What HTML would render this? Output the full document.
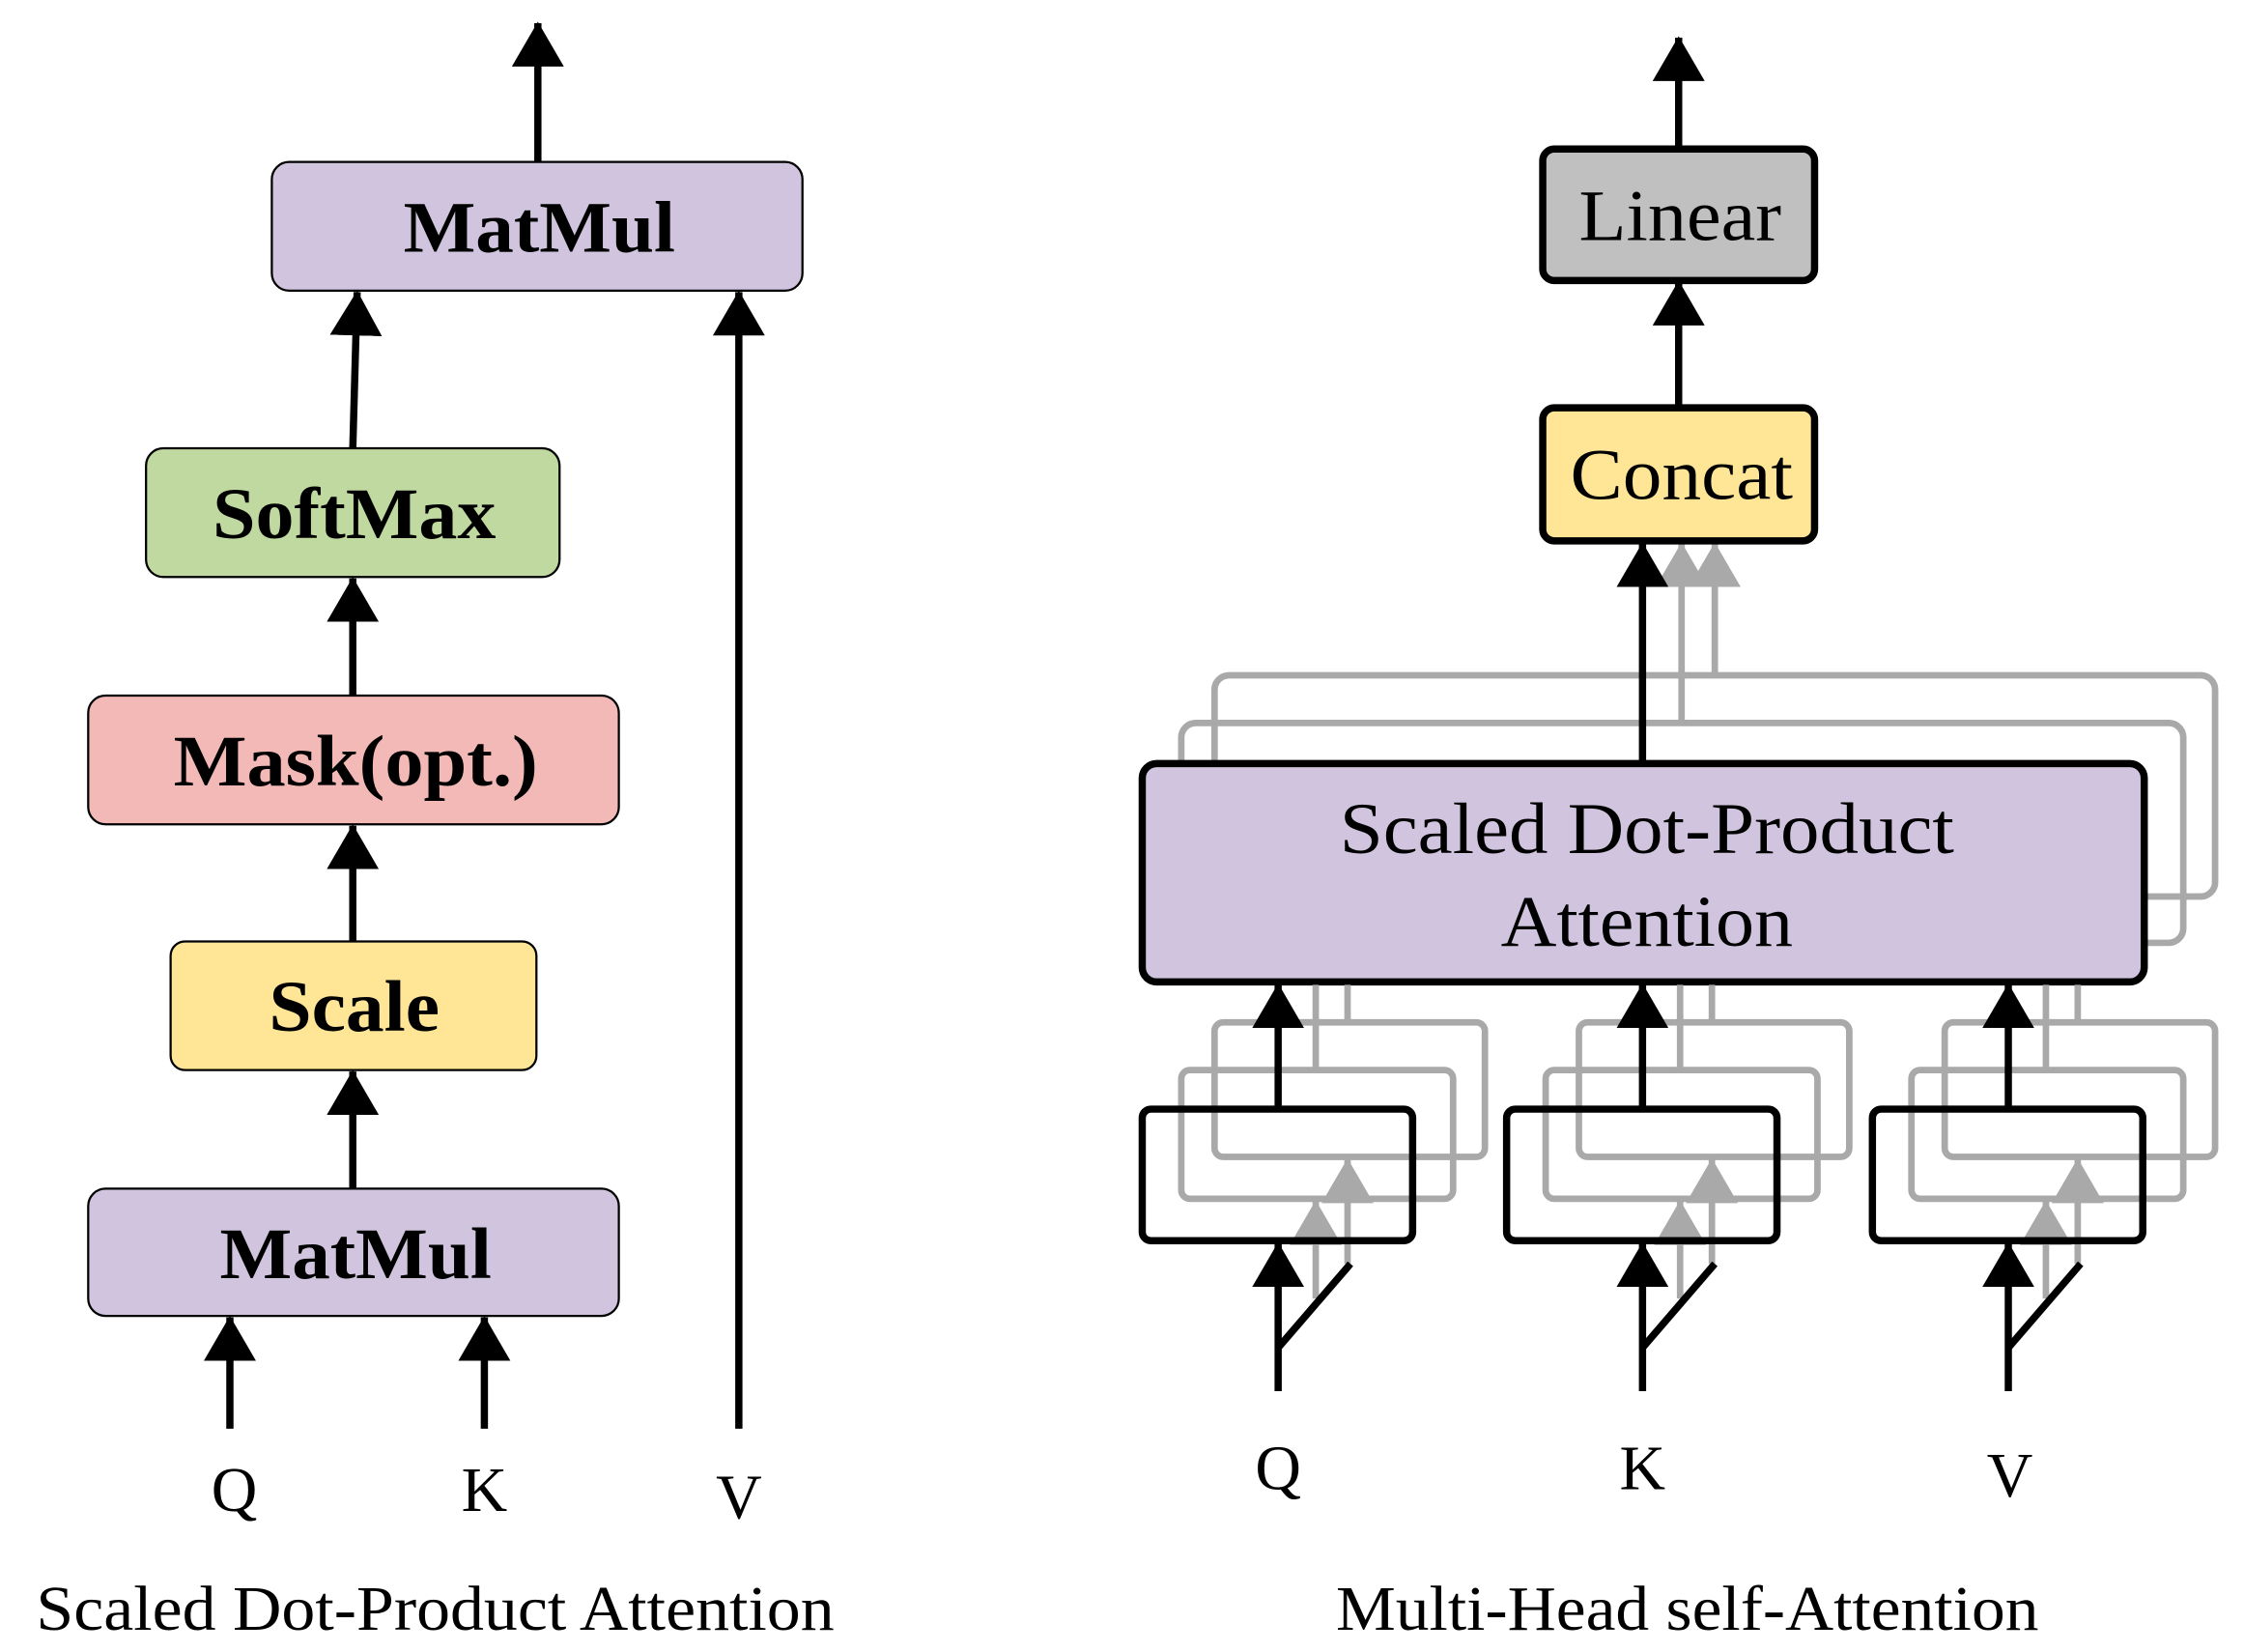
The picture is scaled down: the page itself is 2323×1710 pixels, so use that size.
<!DOCTYPE html>
<html><head><meta charset="utf-8"><style>html,body{margin:0;padding:0;background:#fff}svg{display:block}</style></head>
<body>
<svg width="2323" height="1710" viewBox="0 0 1552 1142.4" xmlns="http://www.w3.org/2000/svg" font-family="'Liberation Serif', serif">
<defs>
<marker id="ab" markerUnits="userSpaceOnUse" markerWidth="32" markerHeight="36" refX="30" refY="18" orient="auto" viewBox="0 0 32 36"><path d="M0,0 L31,18 L0,36 Z" fill="#000"/></marker>
<marker id="ag" markerUnits="userSpaceOnUse" markerWidth="32" markerHeight="36" refX="30" refY="18" orient="auto" viewBox="0 0 32 36"><path d="M0,0 L31,18 L0,36 Z" fill="#a9a9a9"/></marker>
</defs>
<!-- LEFT -->
<g stroke="#000" stroke-width="1.5">
<rect x="188" y="112" width="367" height="89" rx="12" fill="#d1c4de"/>
<rect x="101" y="310" width="286" height="89" rx="12" fill="#c0d9a0"/>
<rect x="61" y="481" width="367" height="89" rx="12" fill="#f2b9b6"/>
<rect x="118" y="651" width="253" height="89" rx="10" fill="#fee696"/>
<rect x="61" y="822" width="367" height="88" rx="12" fill="#d1c4de"/>
</g>
<g font-weight="bold" font-size="50" text-anchor="middle">
<text x="373" y="174" textLength="188" lengthAdjust="spacingAndGlyphs">MatMul</text>
<text x="245" y="372" textLength="196" lengthAdjust="spacingAndGlyphs">SoftMax</text>
<text x="246" y="543" textLength="252" lengthAdjust="spacingAndGlyphs">Mask(opt.)</text>
<text x="245" y="713" textLength="118" lengthAdjust="spacingAndGlyphs">Scale</text>
<text x="246" y="884" textLength="188" lengthAdjust="spacingAndGlyphs">MatMul</text>
</g>
<g stroke="#000" stroke-width="5" fill="none">
<line x1="372" y1="112" x2="372" y2="16" marker-end="url(#ab)"/>
<line x1="244" y1="310" x2="247" y2="202" marker-end="url(#ab)"/>
<line x1="244" y1="481" x2="244" y2="400" marker-end="url(#ab)"/>
<line x1="244" y1="651" x2="244" y2="571" marker-end="url(#ab)"/>
<line x1="244" y1="822" x2="244" y2="741" marker-end="url(#ab)"/>
<line x1="159" y1="988" x2="159" y2="911" marker-end="url(#ab)"/>
<line x1="335" y1="988" x2="335" y2="911" marker-end="url(#ab)"/>
<line x1="511" y1="988" x2="511" y2="202" marker-end="url(#ab)"/>
</g>
<g font-size="44" text-anchor="middle">
<text x="162" y="1045">Q</text>
<text x="335" y="1045">K</text>
<text x="511" y="1050">V</text>
<text x="301" y="1127" textLength="552" lengthAdjust="spacingAndGlyphs">Scaled Dot-Product Attention</text>
</g>
<!-- RIGHT -->
<g stroke="#a9a9a9" stroke-width="4.5" fill="none">
<rect x="840" y="467" width="692" height="153" rx="10"/>
<rect x="817" y="500" width="693" height="152" rx="10"/>
<line x1="1163" y1="500" x2="1163" y2="376" marker-end="url(#ag)"/>
<line x1="1186" y1="467" x2="1186" y2="376" marker-end="url(#ag)"/>
</g>
<rect x="790" y="528" width="693" height="151" rx="10" fill="#d1c4de" stroke="#000" stroke-width="5"/>
<g font-size="50" text-anchor="middle">
<text x="1139" y="590" textLength="425" lengthAdjust="spacingAndGlyphs">Scaled Dot-Product</text>
<text x="1139" y="654" textLength="202" lengthAdjust="spacingAndGlyphs">Attention</text>
</g>
<rect x="1067" y="103" width="188" height="91" rx="8" fill="#c0c0c0" stroke="#000" stroke-width="5"/>
<rect x="1067" y="282" width="188" height="92" rx="8" fill="#fee696" stroke="#000" stroke-width="5"/>
<g font-size="50" text-anchor="middle">
<text x="1162" y="166" textLength="140" lengthAdjust="spacingAndGlyphs">Linear</text>
<text x="1163" y="345" textLength="154" lengthAdjust="spacingAndGlyphs">Concat</text>
</g>
<g stroke="#000" stroke-width="5" fill="none">
<line x1="1161" y1="103" x2="1161" y2="26" marker-end="url(#ab)"/>
<line x1="1161" y1="282" x2="1161" y2="195" marker-end="url(#ab)"/>
<line x1="1136" y1="527" x2="1136" y2="376" marker-end="url(#ab)"/>
</g>
<!-- small groups -->
<g id="grp">
<g stroke="#a9a9a9" stroke-width="4.5" fill="none">
<rect x="840" y="707" width="187" height="93" rx="6"/>
<rect x="817" y="740" width="188" height="89" rx="6"/>
<line x1="910" y1="740" x2="910" y2="681"/>
<line x1="932" y1="707" x2="932" y2="681"/>
<line x1="910" y1="898" x2="910" y2="831" marker-end="url(#ag)"/>
<line x1="932" y1="874" x2="932" y2="802" marker-end="url(#ag)"/>
</g>
<rect x="790" y="767" width="187" height="91" rx="6" fill="none" stroke="#000" stroke-width="5"/>
<g stroke="#000" stroke-width="5" fill="none">
<line x1="884" y1="767" x2="884" y2="681" marker-end="url(#ab)"/>
<line x1="884" y1="962" x2="884" y2="860" marker-end="url(#ab)"/>
<line x1="884" y1="932" x2="934" y2="874"/>
</g>
</g>
<use href="#grp" x="252"/>
<use href="#grp" x="505"/>
<g font-size="44" text-anchor="middle">
<text x="884" y="1030">Q</text>
<text x="1136" y="1030">K</text>
<text x="1390" y="1035">V</text>
<text x="1167" y="1127" textLength="486" lengthAdjust="spacingAndGlyphs">Multi-Head self-Attention</text>
</g>
</svg>
</body></html>
